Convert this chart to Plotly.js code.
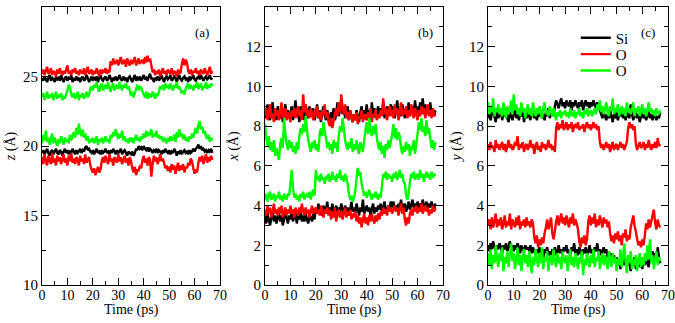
<!DOCTYPE html>
<html>
<head>
<meta charset="utf-8">
<script src="https://cdn.plot.ly/plotly-3.0.1.min.js"></script>
<style>
  html, body { margin: 0; padding: 0; background: #fff; }
  #myPlot { width: 675px; height: 323px; }
</style>
</head>
<body>
<div id="myPlot"></div>
<script>
// Time axis (ps), one sample every 0.5 ps
const time = [0,0.5,1,1.5,2,2.5,3,3.5,4,4.5,5,5.5,6,6.5,7,7.5,8,8.5,9,9.5,10,10.5,11,11.5,12,12.5,13,13.5,14,14.5,
  15,15.5,16,16.5,17,17.5,18,18.5,19,19.5,20,20.5,21,21.5,22,22.5,23,23.5,24,24.5,25,25.5,26,26.5,27,27.5,28,28.5,29,29.5,
  30,30.5,31,31.5,32,32.5,33,33.5,34,34.5,35,35.5,36,36.5,37,37.5,38,38.5,39,39.5,40,40.5,41,41.5,42,42.5,43,43.5,44,44.5,
  45,45.5,46,46.5,47,47.5,48,48.5,49,49.5,50,50.5,51,51.5,52,52.5,53,53.5,54,54.5,55,55.5,56,56.5,57,57.5,58,58.5,59,59.5,
  60,60.5,61,61.5,62,62.5,63,63.5,64,64.5,65,65.5,66,66.5,67];

const legendNames = ['Si', 'O', 'O'];
const panelLabels = ['(a)', '(b)', '(c)'];

// Panel (a): z (Å)
const a_si_up = [24.9,24.7,25.0,24.8,24.6,24.9,25.1,24.7,24.9,24.8, 24.6,25.0,24.8,24.9,24.7,25.1,24.8,24.6,24.9,25.0,
  24.7,24.9,24.8,25.1,24.6,24.9,24.7,25.0,24.8,24.9, 24.6,24.9,25.0,24.7,24.8,25.1,24.9,24.6,24.8,25.0,
  24.7,24.9,24.8,25.0,24.6,24.9,25.1,24.8,24.7,24.9, 25.0,24.7,24.8,25.1,24.9,24.6,24.9,24.8,25.0,24.7,
  24.9,25.1,24.8,24.7,25.0,24.8,24.9,24.6,24.9,25.0, 24.8,24.6,24.9,25.1,24.7,24.9,24.8,25.0,24.7,24.9,
  25.1,24.8,24.9,24.7,25.0,25.2,24.8,24.9,24.6,24.9, 24.8,25.0,24.7,24.9,25.1,24.8,24.6,24.9,25.0,24.8,
  24.9,25.1,24.7,24.8,25.0,24.9,24.6,24.9,25.1,24.8, 24.7,24.9,25.0,24.8,24.9,24.6,25.0,24.8,24.9,25.1,
  24.8,24.7,24.9,25.0,24.8,25.1,24.9,24.7,24.9,25.0, 24.8,24.9,25.1,24.8,24.9];
const a_o1_up = [25.2,25.5,25.1,25.4,25.7,25.2,25.3,25.6,25.1,25.4, 25.3,25.0,25.5,25.2,25.6,25.3,25.1,25.4,25.2,25.5,
  25.8,25.2,25.4,25.1,25.5,25.3,25.6,25.2,25.4,25.1, 25.5,25.3,25.2,25.6,25.1,25.4,25.7,25.2,25.3,25.5,
  25.1,25.4,25.2,25.6,25.3,25.0,25.5,25.2,25.4,25.3, 25.6,25.2,25.4,25.3,26.1,25.8,26.3,25.9,26.0,26.2,
  25.8,26.1,26.4,25.9,26.0,26.2,25.7,26.3,26.0,25.8, 26.2,25.9,26.1,26.4,25.8,26.0,26.3,25.9,26.1,26.2,
  25.9,26.4,26.0,26.5,26.1,26.3,25.8,25.3,25.5,25.1, 25.4,25.2,25.5,25.0,25.3,25.6,25.2,25.4,25.1,25.5,
  25.3,25.2,25.6,25.1,25.4,25.3,25.0,25.5,25.2,25.3, 25.9,26.3,25.8,26.2,26.0,25.4,25.2,25.5,25.1,25.4,
  25.3,25.6,25.2,25.4,25.1,25.5,25.3,25.2,25.6,25.3, 25.1,25.4,25.7,25.2,25.4];
const a_o2_up = [23.5,23.8,23.3,23.6,23.9,23.4,23.7,23.5,23.8,23.3, 23.6,23.9,23.4,23.7,23.5,23.8,23.3,23.6,23.4,23.7,
  24.0,24.4,24.2,23.7,23.5,23.8,23.4,23.6,23.9,23.3, 23.7,23.5,23.8,23.4,23.6,23.9,23.5,23.7,24.1,24.3,
  24.0,24.4,24.2,24.6,24.1,23.9,24.3,24.5,24.0,24.2, 24.4,24.1,24.6,24.2,23.9,24.3,24.5,24.0,24.2,24.4,
  24.1,24.6,24.3,24.0,24.4,24.2,24.5,24.1,24.3,24.0, 23.6,23.9,23.5,23.8,24.1,24.4,24.0,24.3,24.2,23.9,
  23.7,23.5,23.9,23.4,23.8,23.6,23.5,23.9,23.7,23.4, 23.8,23.6,23.9,24.3,24.1,24.4,24.0,24.5,24.2,24.3,
  24.1,24.5,24.2,24.0,24.4,24.2,24.6,24.1,24.3,24.0, 23.8,24.0,23.7,24.1,24.3,24.5,24.1,24.4,24.2,24.0,
  24.4,24.2,24.6,24.1,24.3,24.5,24.0,24.3,24.2,24.6, 24.1,24.4,24.2,24.5,24.3];
const a_si_lo = [19.5,19.7,19.4,19.6,19.8,19.5,19.3,19.6,19.7,19.4, 19.6,19.8,19.5,19.4,19.7,19.6,19.3,19.6,19.8,19.5,
  19.7,19.4,19.6,19.5,19.8,19.6,19.4,19.7,19.5,19.6, 19.8,19.5,19.7,19.6,19.9,20.0,19.7,19.8,19.6,19.5,
  19.7,19.4,19.6,19.8,19.5,19.6,19.4,19.7,19.5,19.6, 19.8,19.5,19.6,19.4,19.7,19.5,19.8,19.6,19.4,19.7,
  19.5,19.6,19.8,19.4,19.6,19.7,19.5,19.3,19.6,19.5, 19.4,19.6,19.3,19.5,19.8,19.7,20.0,19.8,19.9,19.7,
  20.0,19.8,19.7,19.9,19.6,19.8,19.7,19.5,19.7,19.6, 19.8,19.5,19.7,19.6,19.4,19.7,19.5,19.8,19.6,19.5,
  19.7,19.4,19.6,19.5,19.8,19.6,19.3,19.6,19.5,19.7, 19.4,19.6,19.7,19.5,19.6,19.4,19.7,19.5,19.6,19.8,
  19.6,19.8,19.9,20.1,19.8,20.0,19.7,19.8,19.6,19.7, 19.5,19.7,19.6,19.8,19.5];
const a_o1_lo = [19.2,18.7,19.4,18.9,18.6,19.3,19.0,18.7,19.5,18.8, 19.1,18.6,19.3,18.9,19.2,18.7,19.0,19.4,18.8,19.1,
  18.6,19.3,18.9,19.5,18.8,19.1,18.7,19.2,19.0,18.6, 19.3,18.9,19.1,18.7,19.4,18.8,19.0,19.2,18.6,18.3,
  18.1,18.4,17.9,18.2,18.5,18.1,18.3,18.9,19.2,18.8, 19.3,19.0,18.7,19.4,18.9,19.1,18.6,19.2,19.0,18.8,
  19.4,18.9,19.2,18.7,19.0,19.3,18.8,19.1,18.6,19.2, 18.9,18.4,18.1,18.5,17.9,18.3,18.2,18.6,18.4,19.0,
  19.3,18.8,19.1,18.6,19.2,19.0,17.8,18.7,19.3,18.9, 19.2,18.7,19.0,19.4,18.9,19.1,18.8,18.4,18.6,18.2,
  18.5,18.1,18.7,18.3,18.6,18.0,18.4,18.8,18.2,18.6, 18.3,18.7,18.1,18.5,18.4,18.8,18.6,19.1,18.9,18.4,
  18.0,18.3,18.1,18.8,19.2,18.9,19.3,18.7,19.1,19.4, 18.8,19.2,18.9,19.3,19.0];
const a_o2_lo = [20.2,20.8,20.4,21.1,20.3,20.6,20.1,20.5,20.9,20.2, 20.6,20.3,20.0,20.5,20.2,20.7,20.4,20.1,20.6,20.3,
  20.5,20.2,20.8,20.4,20.7,21.0,20.6,21.3,20.8,21.6, 21.0,20.7,21.2,20.6,20.9,20.4,20.7,20.2,20.5,20.3,
  20.6,20.2,20.4,20.7,20.1,20.5,20.3,20.6,20.2,20.4, 20.7,20.3,20.5,20.2,20.8,20.6,21.0,20.7,21.2,20.8,
  20.5,20.9,20.6,21.1,20.4,20.7,20.3,20.5,20.2,20.6, 20.3,20.6,20.2,20.5,20.8,20.4,20.6,20.3,20.7,20.5,
  20.9,20.6,21.1,20.7,21.0,20.8,21.2,20.6,20.9,20.7, 21.1,20.6,20.8,20.5,20.7,20.3,20.6,20.4,20.2,20.6,
  20.3,20.7,20.4,20.5,20.8,20.3,21.0,20.6,21.2,20.7, 20.9,20.5,20.8,20.4,20.6,20.3,20.7,20.5,20.9,20.6,
  21.0,21.3,20.9,21.5,21.8,21.2,21.4,20.9,21.1,20.7, 20.5,20.8,20.3,20.6,20.4];

// Panel (b): x (Å)
const b_si_up = [8.9,8.4,9.1,8.6,8.3,8.8,9.2,8.5,8.7,8.3, 9.0,8.6,8.4,8.9,8.2,8.7,9.1,8.5,8.8,8.4,
  8.6,9.0,8.3,8.8,9.3,8.5,8.7,8.2,9.0,8.6, 8.8,8.3,9.1,8.6,8.4,9.0,8.5,8.7,8.9,8.3,
  8.6,9.1,8.4,8.8,8.2,8.7,9.0,8.5,8.3,8.8, 8.5,8.2,8.7,8.4,8.9,8.3,8.6,9.2,8.5,8.8,
  9.3,8.6,8.9,8.4,8.7,9.0,8.3,8.8,8.5,8.2, 8.6,8.3,8.8,8.5,8.2,8.7,9.0,8.4,8.8,8.6,
  9.1,8.5,8.8,8.3,9.2,8.6,8.9,8.4,8.7,9.0, 8.5,8.9,8.6,9.2,8.4,8.8,9.0,8.5,8.7,9.1,
  8.6,9.0,8.4,8.8,9.3,8.6,8.9,8.5,9.1,8.7, 8.4,8.9,8.6,9.2,8.5,8.8,9.0,8.6,9.3,8.7,
  9.0,8.5,9.2,8.7,9.4,8.8,9.1,8.6,9.0,8.7, 9.2,8.6,8.9,8.5,8.8];
const b_o1_up = [8.5,8.9,8.3,8.7,9.1,8.4,8.6,8.2,8.9,8.5, 8.8,8.3,8.7,9.2,8.4,8.6,8.9,8.3,8.7,8.5,
  8.2,8.8,8.5,8.9,8.4,8.7,9.0,8.5,8.8,8.3, 9.6,8.7,9.1,8.5,8.8,8.4,8.9,8.6,8.3,8.8,
  8.5,9.0,8.4,8.7,8.3,8.8,8.6,9.1,8.4,8.7, 8.2,8.0,8.4,7.9,8.3,8.6,8.9,8.5,9.2,8.7,
  9.6,8.9,8.6,9.1,8.4,8.7,8.3,8.8,8.5,8.2, 8.6,8.3,8.7,8.1,8.5,8.4,8.8,8.2,8.6,8.4,
  8.3,8.7,8.4,8.9,8.2,8.6,8.5,8.8,8.3,8.6, 8.4,8.8,8.5,9.4,8.6,8.9,8.3,8.7,9.0,8.5,
  8.8,8.4,9.1,8.6,8.9,8.3,8.7,9.2,8.5,8.8, 8.6,9.0,8.4,8.8,8.5,9.1,8.7,8.4,8.9,8.6,
  8.3,8.8,8.5,9.0,8.6,8.9,8.4,8.7,9.1,8.5, 8.8,8.4,8.9,8.6,8.5];
const b_o2_up = [8.1,7.4,7.0,7.5,6.8,7.2,6.7,7.3,6.5,6.9, 6.6,6.3,7.1,7.4,6.9,8.4,7.6,7.1,6.8,7.3,
  6.9,7.2,6.7,7.0,6.6,7.2,6.8,7.5,7.9,7.6, 8.1,7.7,8.5,7.8,7.3,7.0,6.7,7.2,6.9,7.3,
  6.8,7.1,6.7,7.6,7.9,7.5,8.2,7.7,7.4,6.9, 7.2,6.8,7.1,6.6,7.3,6.9,7.2,6.7,7.5,8.0,
  7.7,8.4,7.9,7.3,7.0,6.8,7.2,6.9,7.4,6.7, 7.1,6.8,7.3,6.9,6.6,7.2,7.0,6.7,7.3,7.8,
  8.2,7.6,8.4,7.8,7.5,8.0,7.6,8.1,7.4,7.0, 6.8,7.2,6.6,7.0,6.4,7.1,6.8,7.3,6.9,7.2,
  7.6,8.1,7.4,7.9,7.3,7.7,7.5,6.9,6.6,7.0, 6.7,7.2,6.8,7.1,6.5,7.0,6.8,7.3,6.6,7.1,
  7.6,8.2,7.8,8.4,7.7,8.0,7.5,8.3,7.6,7.9, 7.4,6.9,7.3,6.8,7.2];
const b_si_lo = [3.5,3.1,3.6,3.3,3.0,3.4,3.7,3.2,3.5,3.1, 3.4,3.6,3.2,3.5,3.0,3.3,3.6,3.4,3.1,3.5,
  3.3,3.7,3.2,3.4,3.6,3.1,3.5,3.3,3.8,3.2, 3.5,3.2,3.6,3.3,3.1,3.5,3.4,3.2,3.6,3.3,
  3.9,3.6,4.1,3.7,3.9,3.5,4.0,3.7,3.8,4.2, 3.6,3.9,3.7,4.1,3.5,3.8,4.0,3.6,3.9,3.7,
  4.1,3.8,3.6,4.0,3.7,3.9,3.5,3.8,4.2,3.7, 3.9,3.6,4.1,3.8,3.5,3.9,3.7,4.3,3.6,3.8,
  4.0,3.7,3.9,3.5,3.8,4.1,3.6,3.9,3.7,4.0, 3.8,4.1,3.7,3.9,4.2,3.8,3.6,4.0,3.9,4.2,
  3.9,4.2,3.8,4.0,3.7,4.1,3.9,4.3,3.8,4.0, 4.1,3.7,3.9,4.2,3.8,4.0,4.3,3.9,4.1,3.8,
  4.2,3.9,4.1,3.8,4.3,4.0,3.9,4.2,3.8,4.1, 3.9,4.2,4.0,3.8,4.1];
const b_o1_lo = [3.8,3.5,4.0,3.6,3.9,3.4,3.7,4.1,3.6,3.8, 3.5,3.9,3.6,4.0,3.4,3.7,3.9,3.5,3.8,3.6,
  4.0,3.6,3.8,3.4,3.9,3.7,3.5,3.9,3.6,4.1, 3.7,3.5,3.9,3.6,3.8,3.4,3.7,4.0,3.6,3.8,
  3.9,3.6,3.8,3.5,4.0,3.7,3.4,3.8,3.6,3.9, 3.5,3.8,3.3,3.7,3.4,3.9,3.2,3.6,3.8,3.4,
  3.7,3.3,3.6,3.9,3.4,3.7,3.5,3.8,3.3,3.6, 3.4,3.7,3.2,3.5,3.1,3.4,2.9,3.3,3.6,3.1,
  3.4,3.0,3.5,3.2,3.6,3.3,3.1,3.5,3.2,3.6, 3.3,3.7,3.5,3.9,3.6,3.8,3.5,4.0,3.7,3.9,
  3.6,3.8,4.0,3.7,3.9,3.5,3.8,4.1,3.6,3.9, 3.3,3.0,3.4,3.1,3.6,3.8,3.5,3.9,3.7,4.0,
  3.6,3.9,3.7,4.1,3.6,3.8,4.0,3.7,3.9,3.5, 3.8,3.6,4.0,3.7,3.9];
const b_o2_lo = [4.3,4.6,4.2,4.5,4.7,4.3,4.4,4.6,4.2,4.5, 4.4,4.7,4.3,4.5,4.2,4.6,4.4,4.3,4.6,4.5,
  5.1,5.8,4.9,4.4,4.6,4.3,4.5,4.2,4.6,4.4, 4.7,4.3,4.5,4.6,4.4,4.7,4.3,4.6,4.8,4.5,
  5.8,5.3,5.5,5.2,5.6,5.3,5.4,5.1,5.5,5.3, 5.6,5.2,5.4,5.7,5.3,5.5,5.2,5.6,5.4,5.8,
  5.3,5.5,5.2,5.6,5.4,5.1,4.6,4.3,4.5,4.2, 4.4,4.7,5.4,5.9,5.5,5.7,5.1,4.8,4.5,4.7,
  4.4,4.6,4.8,4.5,4.3,4.6,4.4,4.7,4.5,4.3, 4.6,4.4,5.0,5.6,5.4,5.7,5.3,5.6,5.4,5.5,
  5.2,5.6,5.4,5.7,5.3,5.5,5.8,5.4,5.6,5.2, 5.1,4.5,4.3,4.6,5.2,5.6,5.4,5.7,5.3,5.5,
  5.6,5.3,5.8,5.4,5.6,5.2,5.5,5.7,5.4,5.6, 5.3,5.7,5.4,5.6,5.5];

// Panel (c): y (Å)
const c_si_up = [8.4,8.7,8.3,8.6,8.9,8.5,8.2,8.7,8.4,8.6, 8.8,8.3,8.6,8.5,8.9,8.4,8.2,8.7,8.5,8.3,
  8.6,8.9,8.4,8.7,8.3,8.6,8.5,8.8,8.2,8.6, 8.4,8.7,8.5,8.3,8.8,8.6,8.4,8.7,8.3,8.6,
  8.5,8.8,8.4,8.6,8.3,8.7,8.5,8.9,8.4,8.6, 8.7,8.5,9.0,9.3,9.1,8.9,9.2,9.4,9.0,9.2,
  8.9,9.3,9.1,9.0,9.3,8.8,9.2,9.0,9.3,9.1, 8.9,9.2,9.0,9.3,8.8,9.1,9.3,9.0,9.2,8.9,
  9.2,9.0,9.3,9.1,8.9,9.2,9.0,8.8,8.6,8.4, 8.7,8.5,8.3,8.6,8.4,8.8,8.5,8.2,8.6,8.4,
  8.7,8.3,8.6,8.5,8.8,8.4,8.6,8.3,8.7,8.5, 8.4,9.1,8.6,8.3,8.5,8.7,8.4,8.6,8.2,8.5,
  8.7,8.4,8.6,8.3,8.5,8.8,8.4,8.6,8.3,8.5, 8.6,8.3,8.5,8.4,8.7];
const c_o1_up = [7.1,6.8,7.2,6.9,7.0,6.7,7.3,6.9,7.1,6.8, 7.0,7.2,6.8,7.1,6.7,7.0,7.3,6.9,7.1,6.8,
  6.9,7.2,7.0,7.5,6.8,7.1,6.9,7.2,6.7,7.0, 7.1,6.8,7.0,7.3,6.9,7.1,6.6,7.0,7.2,6.8,
  7.0,6.7,7.2,6.9,7.1,6.8,7.0,7.3,6.9,7.1, 6.8,7.0,6.7,7.9,8.2,7.8,8.1,7.9,8.3,7.8,
  8.0,8.2,7.8,8.1,7.9,8.2,7.7,8.0,8.1,7.9, 8.2,7.8,8.0,7.9,8.1,7.7,8.0,8.2,7.9,8.1,
  7.8,8.0,8.2,7.9,8.1,7.8,8.0,7.2,6.9,7.1, 6.8,7.0,7.2,6.9,7.1,6.7,7.0,7.2,6.8,7.0,
  7.1,6.8,7.0,7.2,6.9,7.1,6.8,7.0,7.2,7.9, 8.2,7.9,8.1,7.8,8.0,7.1,6.8,7.0,7.2,6.9,
  7.0,7.2,6.8,7.1,6.9,7.3,7.0,6.8,7.1,6.9, 7.2,6.9,7.4,7.0,7.1];
const c_o2_up = [9.2,8.6,9.0,8.7,9.4,8.5,8.9,8.7,9.1,8.6, 8.9,8.5,9.2,8.7,8.4,9.0,8.6,8.8,9.3,8.6,
  9.6,8.8,9.1,8.6,8.9,8.5,9.2,8.7,8.9,8.4, 8.8,9.1,8.6,8.9,8.5,9.2,8.7,8.5,8.9,8.6,
  9.0,8.7,8.4,8.9,9.2,8.6,8.8,8.5,9.0,8.7, 8.5,8.9,8.6,8.3,8.7,8.5,8.8,8.4,8.7,8.6,
  8.8,8.5,8.7,8.4,8.9,8.6,8.5,8.8,8.4,8.7, 8.6,8.9,8.5,8.7,8.4,8.8,8.6,8.9,8.5,8.7,
  8.8,8.5,8.7,8.9,8.6,9.1,8.8,9.3,8.7,9.0, 8.6,8.9,9.2,8.7,8.5,9.0,8.8,9.4,8.6,8.9,
  8.7,9.1,8.5,8.8,9.0,8.6,8.9,8.5,9.2,8.7, 8.9,8.6,8.8,9.2,8.5,8.9,8.7,9.0,8.5,8.8,
  9.1,8.6,8.9,8.5,8.8,9.2,8.7,8.9,8.6,8.8, 8.5,8.9,8.7,8.6,8.8];
const c_si_lo = [2.0,1.7,2.1,1.8,2.2,1.9,1.7,2.0,1.8,2.1, 1.9,1.6,2.0,1.8,2.1,1.7,1.9,2.2,1.8,2.0,
  1.7,2.0,1.8,2.1,1.9,1.6,2.0,1.8,1.7,2.0, 1.8,1.9,1.7,2.0,1.6,1.9,1.7,1.5,1.8,1.6,
  1.9,1.5,1.7,1.4,1.8,1.6,1.9,1.5,1.7,1.4, 1.8,1.6,1.9,1.5,1.7,2.0,1.6,1.8,1.5,1.9,
  1.7,2.0,1.6,1.8,1.5,1.9,1.7,2.1,1.6,1.8, 1.5,1.9,1.7,1.4,1.8,1.6,1.9,1.5,1.7,2.0,
  1.6,1.8,1.5,1.9,1.7,2.1,1.6,1.8,1.5,1.7, 1.9,1.6,1.8,1.4,1.7,1.3,1.6,1.2,1.5,1.1,
  1.4,1.0,1.3,0.8,1.2,1.5,1.0,1.3,0.9,1.4, 1.1,0.7,1.2,1.0,1.4,0.8,1.1,1.3,0.9,1.2,
  0.8,1.3,1.0,1.5,1.1,0.9,1.4,1.2,1.7,1.3, 1.6,1.2,1.9,1.4,1.1];
const c_o1_lo = [3.0,3.3,2.8,3.4,2.9,3.2,3.6,2.9,3.3,3.0, 3.4,2.8,3.1,3.5,2.9,3.2,3.0,3.6,2.8,3.3,
  3.1,2.9,3.4,3.0,3.5,2.8,3.2,3.0,3.3,2.9, 3.4,3.0,3.2,2.9,3.3,3.1,2.4,2.1,2.5,1.9,
  2.3,2.0,2.4,2.1,2.6,2.9,3.3,2.8,3.1,3.4, 2.6,2.3,2.7,3.2,3.5,3.0,3.3,3.6,3.1,3.4,
  3.0,3.5,3.2,2.9,3.4,3.1,3.6,3.0,3.3,3.1, 2.8,2.2,1.9,2.4,2.1,2.5,2.0,2.3,3.2,3.5,
  3.0,3.4,3.1,3.6,2.9,3.3,3.0,3.5,3.2,2.9, 3.4,3.1,3.3,2.9,3.2,2.6,2.2,2.5,2.1,2.6,
  2.3,2.7,2.2,2.5,2.0,2.6,2.4,2.8,2.2,2.5, 2.3,2.9,3.2,3.5,3.0,2.7,2.3,2.0,2.2,1.9,
  2.3,2.0,2.5,3.1,2.8,3.3,2.9,3.2,3.5,3.8, 3.1,2.8,3.3,3.0,2.9];
const c_o2_lo = [1.6,1.0,1.8,0.8,1.5,1.1,2.0,1.3,0.9,1.6, 1.2,1.9,0.7,1.4,1.1,1.7,0.9,1.5,2.1,1.2,
  1.6,0.8,1.3,1.9,1.0,1.5,0.7,1.4,1.8,1.1, 1.5,0.9,1.7,1.2,0.6,1.4,1.0,1.8,1.3,0.9,
  1.6,1.1,1.9,0.8,1.4,1.2,1.7,0.7,1.3,1.5, 1.0,1.8,1.2,0.9,1.6,1.1,1.4,0.8,1.7,1.3,
  1.1,1.5,0.7,1.3,1.8,1.0,1.4,0.9,1.6,1.2, 0.8,1.4,1.1,1.7,0.5,1.3,1.0,1.6,1.2,0.9,
  1.5,1.1,1.8,0.9,1.4,1.2,1.7,0.8,1.3,1.6, 1.0,1.5,1.2,0.8,1.7,1.3,0.9,1.6,1.1,1.4,
  0.7,1.3,1.0,1.8,0.9,1.4,2.1,1.2,0.6,1.5, 1.1,1.7,0.8,1.3,1.0,1.5,0.7,1.2,1.6,0.9,
  1.4,1.0,1.6,1.2,2.0,1.3,2.3,1.1,1.5,0.8, 1.3,1.7,1.0,1.4,1.2];

const SI = '#000000', O1 = '#ff0000', O2 = '#00ff00';
const FONT = '"Liberation Serif", "Times New Roman", "DejaVu Serif", serif';

// One trace; simplify off so every zigzag sample is kept
function line(y, color, n, name, legend) {
  var tr = {
    x: time, y: y,
    xaxis: 'x' + (n > 1 ? n : ''), yaxis: 'y' + (n > 1 ? n : ''),
    mode: 'lines', type: 'scatter',
    line: {color: color, width: 2.4, simplify: false},
    name: name, showlegend: !!legend,
    hoverinfo: 'skip'
  };
  if (legend) tr.legend = legend;
  return tr;
}

var data = [
  line(a_si_up, SI, 1), line(a_si_lo, SI, 1),
  line(a_o1_up, O1, 1), line(a_o1_lo, O1, 1),
  line(a_o2_up, O2, 1), line(a_o2_lo, O2, 1),
  line(b_si_up, SI, 2), line(b_si_lo, SI, 2),
  line(b_o1_up, O1, 2), line(b_o1_lo, O1, 2),
  line(b_o2_up, O2, 2), line(b_o2_lo, O2, 2),
  line(c_si_up, SI, 3, legendNames[0], 'legend'), line(c_si_lo, SI, 3),
  line(c_o1_up, O1, 3, legendNames[1], 'legend2'), line(c_o1_lo, O1, 3),
  line(c_o2_up, O2, 3, legendNames[2], 'legend3'), line(c_o2_lo, O2, 3)
];

// Shared axis styling
function xax(dom, anchor) {
  return {
    domain: dom, anchor: anchor, range: [0, 70], dtick: 10,
    ticks: 'inside', ticklen: 7, tickcolor: '#000', ticklabelstandoff: -3,
    minor: {dtick: 5, ticks: 'inside', ticklen: 4, tickcolor: '#000'},
    showline: true, linecolor: '#000', linewidth: 1, mirror: 'allticks',
    showgrid: false, zeroline: false,
    tickfont: {family: FONT, size: 14, color: '#000'}
  };
}
function yax(anchor, range, dt, title) {
  return {
    anchor: anchor, domain: [0, 1], range: range, dtick: dt,
    ticks: 'inside', ticklen: 7, tickcolor: '#000',
    minor: {dtick: dt / 2, ticks: 'inside', ticklen: 4, tickcolor: '#000'},
    showline: true, linecolor: '#000', linewidth: 1, mirror: 'allticks',
    showgrid: false, zeroline: false,
    tickfont: {family: FONT, size: 15, color: '#000'},
    title: {text: title, font: {family: FONT, size: 14, color: '#000'}, standoff: 4}
  };
}

// One legend box per entry so the rows sit as close as in the original
function leg(y) {
  return {
    x: 0.853, y: y, xanchor: 'left', yanchor: 'top',
    bgcolor: 'rgba(0,0,0,0)', itemwidth: 30,
    font: {family: FONT, size: 15, color: '#000'}
  };
}

var notes = panelLabels.map(function (lab, i) {
  var n = i > 0 ? String(i + 1) : '';
  return {
    text: lab, xref: 'x' + n + ' domain', yref: 'y' + n + ' domain',
    x: [0.9, 0.9, 0.89][i], y: 0.91, xanchor: 'center', yanchor: 'middle',
    showarrow: false, font: {family: FONT, size: 13, color: '#000'}
  };
});
// x axis titles placed as text under each panel
['', '2', '3'].forEach(function (n) {
  notes.push({
    text: 'Time (ps)', xref: 'x' + n + ' domain', yref: 'paper',
    x: 0.5, y: -0.09, xanchor: 'center', yanchor: 'middle',
    showarrow: false, font: {family: FONT, size: 14, color: '#000'}
  });
});

var layout = {
  width: 675, height: 323,
  margin: {l: 0, r: 0, t: 7, b: 38},
  paper_bgcolor: '#fff', plot_bgcolor: '#fff',
  font: {family: FONT, color: '#000'},
  xaxis: xax([42 / 675, 220 / 675], 'y'),
  xaxis2: xax([265 / 675, 443 / 675], 'y2'),
  xaxis3: xax([488 / 675, 668 / 675], 'y3'),
  yaxis: yax('x', [10, 30], 5, '<i>z</i> (Å)'),
  yaxis2: yax('x2', [0, 14], 2, '<i>x</i> (Å)'),
  yaxis3: yax('x3', [0, 14], 2, '<i>y</i> (Å)'),
  showlegend: true,
  legend: leg(0.948),
  legend2: leg(0.889),
  legend3: leg(0.830),
  annotations: notes
};

const myPlot = document.getElementById('myPlot');
Plotly.newPlot(myPlot, data, layout, {displayModeBar: false, staticPlot: true});
</script>
</body>
</html>
